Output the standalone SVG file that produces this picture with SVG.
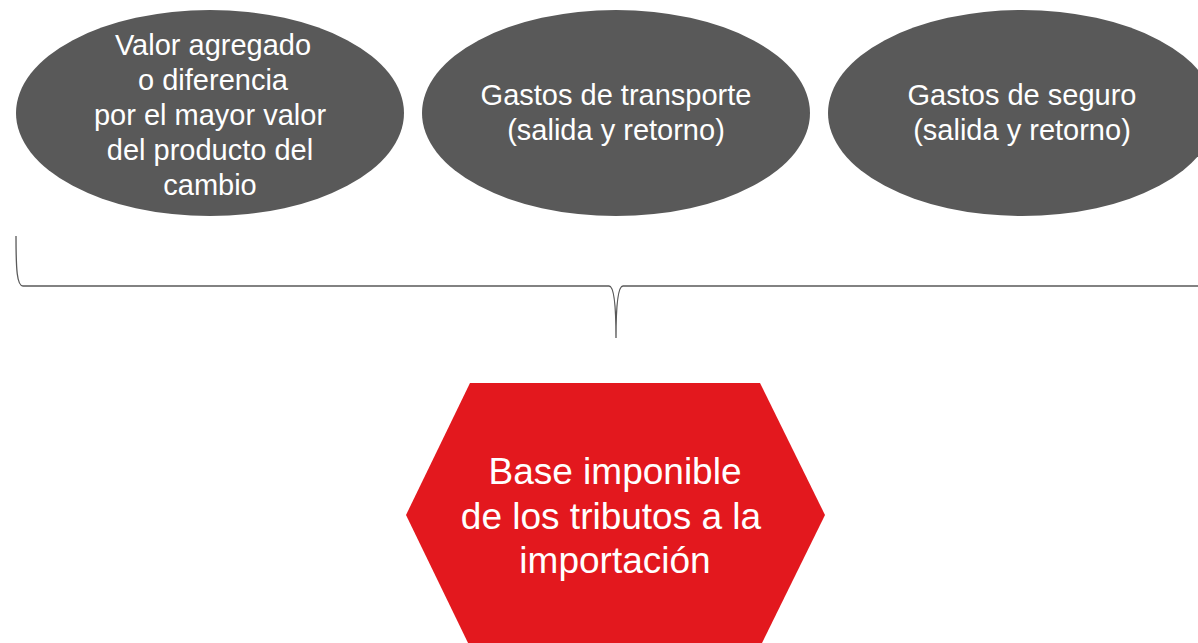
<svg xmlns="http://www.w3.org/2000/svg" width="1198" height="643" viewBox="0 0 1198 643">
<style>
.oval{fill:#595959}
.t{font-family:"Liberation Sans",Arial,sans-serif;fill:#fff;text-anchor:middle}
.s{font-size:29px}
.b{font-size:37px}
.brace{fill:none;stroke:#595959;stroke-width:1.3}
</style>
<rect width="1198" height="643" fill="#fff"/>
<g id="node-valor">
<ellipse class="oval" cx="210" cy="113" rx="194" ry="103"/>
<text class="t s"><tspan x="213" y="55">Valor agregado</tspan><tspan x="213" y="90">o diferencia</tspan><tspan x="210" y="125">por el mayor valor</tspan><tspan x="210" y="160">del producto del</tspan><tspan x="210" y="195">cambio</tspan></text>
</g>
<g id="node-transporte">
<ellipse class="oval" cx="616" cy="113" rx="194" ry="103"/>
<text class="t s"><tspan x="616" y="105">Gastos de transporte</tspan><tspan x="616" y="140">(salida y retorno)</tspan></text>
</g>
<g id="node-seguro">
<ellipse class="oval" cx="1022" cy="113" rx="194" ry="103"/>
<text class="t s"><tspan x="1022" y="105">Gastos de seguro</tspan><tspan x="1022" y="140">(salida y retorno)</tspan></text>
</g>
<g id="connectors">
<path class="brace" d="M16,236 C16,270 17,286 23,286 L609,286 C613,286 616,300 616,338 C616,300 619,286 623,286 L1198,286"/>
</g>
<g id="node-base">
<polygon fill="#E3181E" points="470,383 760,383 825,515 760,647 470,647 406,515"/>
<text class="t b"><tspan x="615" y="484">Base imponible</tspan><tspan x="611" y="529">de los tributos a la</tspan><tspan x="615" y="573">importación</tspan></text>
</g>
</svg>
